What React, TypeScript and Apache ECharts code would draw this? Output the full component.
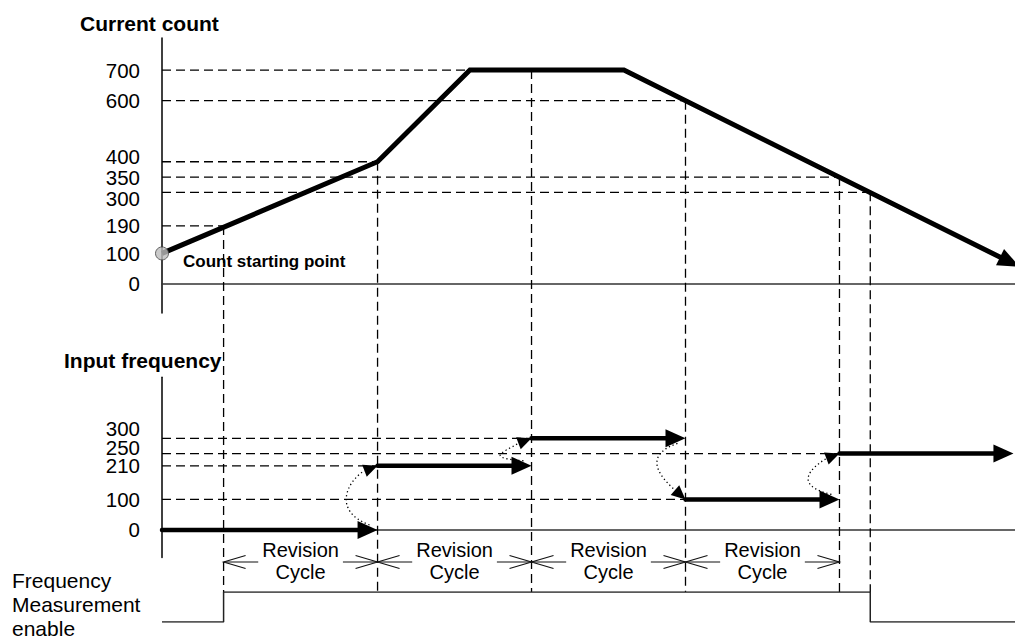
import React, { useEffect, useRef } from 'react';
import * as echarts from 'echarts';

const FONT = '"Liberation Sans", Arial, Helvetica, sans-serif';

// ---- time axis (one revision cycle = 10 units) ----
const timeMax = 55.4;
const cycleBounds = [4, 14, 24, 34, 44];

// ---- current count ----
const countT = [0, 14, 20, 30, 55.3];
const countV = [100, 400, 700, 700, 66];
const countTicks = [0, 100, 190, 300, 350, 400, 600, 700];
const countRefV = [700, 600, 400, 350, 300, 190];
const countRefEndT = [20, 34, 14, 44, 46, 4];
const vLineT = [4, 14, 24, 34, 44, 46];
const vLineV = [190, 400, 700, 600, 350, 300];

// ---- input frequency ----
const freqStartT = [0, 14, 24, 34, 44];
const freqEndT = [14, 24, 34, 44, 55.3];
const freqV = [0, 210, 300, 100, 250];
const freqTicks = [0, 100, 210, 250, 300];
const freqRefV = [300, 250, 210, 100];
const freqRefEndT = [24, 44, 14, 34];

// ---- frequency measurement enable ----
const enableT = [0, 4, 4, 46, 46, 55.4];
const enableV = [0, 0, 1, 1, 0, 0];
const enableLabel = ['Frequency', 'Measurement', 'enable'];

// label nudges (px) used where tick labels would collide
const countLabelShift: Record<number, number> = { 400: -5, 300: 6 };
const freqLabelShift: Record<number, number> = { 300: -9.5, 250: -6 };

const DASH = [9, 5];
const INK = '#000';

function hRefSeries(gi: number, vals: number[], ends: number[]) {
  return {
    type: 'custom',
    xAxisIndex: gi,
    yAxisIndex: gi,
    silent: true,
    z: 1,
    data: vals.map((v, i) => [0, ends[i], v]),
    encode: { x: [0, 1], y: 2 },
    renderItem: (_p: any, api: any) => {
      const a = api.coord([api.value(0), api.value(2)]);
      const b = api.coord([api.value(1), api.value(2)]);
      return {
        type: 'line',
        shape: { x1: a[0], y1: a[1], x2: b[0], y2: b[1] },
        style: { stroke: INK, lineWidth: 1.3, lineDash: DASH },
      };
    },
  };
}

function triangle(tip: number[], from: number[], L: number, W: number) {
  const ang = Math.atan2(tip[1] - from[1], tip[0] - from[0]);
  const bx = tip[0] - L * Math.cos(ang);
  const by = tip[1] - L * Math.sin(ang);
  const nx = -Math.sin(ang) * W;
  const ny = Math.cos(ang) * W;
  return { pts: [[tip[0], tip[1]], [bx + nx, by + ny], [bx - nx, by - ny]], base: [bx, by] };
}

function buildOption(): any {
  const axisX = (gi: number) => ({
    type: 'value',
    gridIndex: gi,
    min: 0,
    max: timeMax,
    axisLabel: { show: false },
    axisTick: { show: false },
    splitLine: { show: false },
    axisLine: { show: gi < 2, onZero: true, lineStyle: { color: '#333', width: 1.5 } },
  });
  const axisY = (gi: number, min: number, max: number) => ({
    type: 'value', gridIndex: gi, min, max,
    axisLine: { show: gi < 2, onZero: false, lineStyle: { color: INK, width: 1.5 } },
    axisTick: { show: false },
    splitLine: { show: false },
    axisLabel: { show: false },
  });
  const n = countT.length;
  return {
    animation: false,
    backgroundColor: '#fff',
    grid: [
      { left: 162, right: 0, top: 38, height: 275 },
      { left: 162, right: 0, top: 377.2, height: 180.3 },
      { left: 162, right: 0, top: 592, height: 30 },
    ],
    xAxis: [axisX(0), axisX(1), axisX(2)],
    yAxis: [axisY(0, -95, 805), axisY(1, -90, 500), axisY(2, 0, 1)],
    series: [
      hRefSeries(0, countRefV, countRefEndT),
      hRefSeries(1, freqRefV, freqRefEndT),
      {
        type: 'line',
        xAxisIndex: 0, yAxisIndex: 0,
        data: countT.map((t, i) => [t, countV[i]]),
        symbol: 'none',
        lineStyle: { color: INK, width: 5, cap: 'butt', join: 'miter' },
        z: 3,
        silent: true,
      },
      {
        type: 'custom',
        xAxisIndex: 0, yAxisIndex: 0,
        silent: true,
        z: 4,
        data: [[countT[n - 2], countV[n - 2], countT[n - 1], countV[n - 1]]],
        encode: { x: [0, 2], y: [1, 3] },
        renderItem: (_p: any, api: any) => {
          const a = api.coord([api.value(0), api.value(1)]);
          const b = api.coord([api.value(2), api.value(3)]);
          const ang = Math.atan2(b[1] - a[1], b[0] - a[0]);
          const tip = [b[0] + 7 * Math.cos(ang), b[1] + 7 * Math.sin(ang)];
          const tri = triangle(tip, a, 22, 9);
          return { type: 'polygon', shape: { points: tri.pts }, style: { fill: INK } };
        },
      },
      {
        type: 'scatter',
        xAxisIndex: 0, yAxisIndex: 0,
        data: [[countT[0], countV[0]]],
        symbol: 'circle',
        symbolSize: 13,
        itemStyle: { color: '#bdbdbd', borderColor: '#444', borderWidth: 1 },
        z: 5,
        silent: true,
      },
      {
        type: 'custom',
        xAxisIndex: 1, yAxisIndex: 1,
        silent: true,
        z: 4,
        data: freqV.map((v, i) => [freqStartT[i], freqEndT[i], v]),
        encode: { x: [0, 1], y: 2 },
        renderItem: (_p: any, api: any) => {
          const a = api.coord([api.value(0), api.value(2)]);
          const b = api.coord([api.value(1), api.value(2)]);
          const L = 20, W = 9;
          return {
            type: 'group',
            children: [
              { type: 'line', shape: { x1: a[0], y1: a[1], x2: b[0] - L * 0.6, y2: b[1] }, style: { stroke: INK, lineWidth: 4.5, lineCap: 'round' } },
              { type: 'polygon', shape: { points: [[b[0], b[1]], [b[0] - L, b[1] - W], [b[0] - L, b[1] + W]] }, style: { fill: INK } },
            ],
          };
        },
      },
      {
        type: 'custom',
        xAxisIndex: 1, yAxisIndex: 1,
        silent: true,
        z: 4,
        data: freqV.slice(1).map((v, i) => [freqStartT[i + 1], freqV[i], v]),
        encode: { x: 0, y: [1, 2] },
        renderItem: (_p: any, api: any) => {
          const t = api.value(0);
          const a = api.coord([t, api.value(1)]);
          const b = api.coord([t, api.value(2)]);
          const dy = b[1] - a[1];
          const up = dy < 0;
          const s = [a[0] - 8, a[1] + (up ? -5 : 5)];
          const cp2 = up ? [b[0] - 24, b[1] + 9] : [b[0] - 16, b[1] - 14];
          const tri = triangle(b, cp2, 14, 6.5);
          const cp1 = [a[0] - 46, a[1] + dy * 0.3];
          const cp2b = [cp2[0] - 6, cp2[1] + (up ? 6 : -6)];
          return {
            type: 'group',
            children: [
              {
                type: 'bezierCurve',
                shape: { x1: s[0], y1: s[1], cpx1: cp1[0], cpy1: cp1[1], cpx2: cp2b[0], cpy2: cp2b[1], x2: tri.base[0], y2: tri.base[1] },
                style: { stroke: INK, lineWidth: 1.3, lineDash: [1.3, 2.7], fill: null },
              },
              { type: 'polygon', shape: { points: tri.pts }, style: { fill: INK } },
            ],
          };
        },
      },
      {
        type: 'line',
        xAxisIndex: 2, yAxisIndex: 2,
        data: enableT.map((t, i) => [t, enableV[i]]),
        symbol: 'none',
        lineStyle: { color: '#222', width: 1.5 },
        silent: true,
        z: 3,
      },
    ],
  };
}

function buildGraphic(px: (g: number, t: number, v: number) => number[]): any[] {
  const els: any[] = [];
  // y tick labels, placed through each axis scale
  const tickLabel = (g: number, v: number, shift: number) => {
    const p = px(g, 0, v);
    els.push({
      type: 'text', z: 3, silent: true, x: p[0] - 22, y: p[1] + shift,
      style: { text: String(v), fontSize: 20.5, fontFamily: FONT, fill: INK, align: 'right', verticalAlign: 'middle', lineHeight: 14 },
    });
  };
  countTicks.forEach((v) => tickLabel(0, v, countLabelShift[v] || 0));
  freqTicks.forEach((v) => tickLabel(1, v, freqLabelShift[v] || 0));

  // vertical dashed guides
  vLineT.forEach((t, i) => {
    const a = px(0, t, vLineV[i]);
    const b = px(2, t, 1);
    els.push({
      type: 'line', z: 1, silent: true,
      shape: { x1: a[0], y1: a[1], x2: b[0], y2: b[1] },
      style: { stroke: INK, lineWidth: 1.3, lineDash: DASH },
    });
  });
  // revision cycle dimension marks
  const dimY = 562;
  for (let k = 0; k < cycleBounds.length - 1; k++) {
    const x1 = px(1, cycleBounds[k], 0)[0];
    const x2 = px(1, cycleBounds[k + 1], 0)[0];
    els.push({ type: 'line', z: 2, silent: true, shape: { x1, y1: dimY, x2, y2: dimY }, style: { stroke: '#111', lineWidth: 1.1 } });
    els.push({ type: 'polyline', z: 2, silent: true, shape: { points: [[x1 + 22, dimY - 6.5], [x1, dimY], [x1 + 22, dimY + 6.5]] }, style: { stroke: '#111', lineWidth: 1.1, fill: null } });
    els.push({ type: 'polyline', z: 2, silent: true, shape: { points: [[x2 - 22, dimY - 6.5], [x2, dimY], [x2 - 22, dimY + 6.5]] }, style: { stroke: '#111', lineWidth: 1.1, fill: null } });
    els.push({
      type: 'text', z: 3, silent: true, x: (x1 + x2) / 2, y: 561,
      style: { text: 'Revision\nCycle', fontSize: 20, fontFamily: FONT, fill: INK, align: 'center', verticalAlign: 'middle', lineHeight: 22, backgroundColor: '#fff', padding: [0, 4] },
    });
  }
  // texts
  els.push({ type: 'text', z: 3, silent: true, x: 80, y: 23.5, style: { text: 'Current count', fontSize: 21, fontWeight: 'bold', fontFamily: FONT, fill: INK, align: 'left', verticalAlign: 'middle' } });
  els.push({ type: 'text', z: 3, silent: true, x: 64, y: 360.5, style: { text: 'Input frequency', fontSize: 21, fontWeight: 'bold', fontFamily: FONT, fill: INK, align: 'left', verticalAlign: 'middle' } });
  els.push({ type: 'text', z: 0, silent: true, x: 183, y: 261.5, style: { text: 'Count starting point', fontSize: 17, fontWeight: 'bold', fontFamily: FONT, fill: INK, align: 'left', verticalAlign: 'middle' } });
  enableLabel.forEach((s, i) => {
    els.push({ type: 'text', z: 3, silent: true, x: 12, y: 580 + i * 24, style: { text: s, fontSize: 21, fontFamily: FONT, fill: INK, align: 'left', verticalAlign: 'middle', lineHeight: 15 } });
  });
  return els;
}

export default function App() {
  const ref = useRef<HTMLDivElement>(null);
  useEffect(() => {
    const chart = echarts.init(ref.current as HTMLDivElement, null, { renderer: 'svg' });
    chart.setOption(buildOption());
    const px = (g: number, t: number, v: number) =>
      chart.convertToPixel({ xAxisIndex: g, yAxisIndex: g } as any, [t, v]) as unknown as number[];
    chart.setOption({ graphic: buildGraphic(px) });
    return () => chart.dispose();
  }, []);
  return (
    <div
      ref={ref}
      style={{ position: 'absolute', left: 0, top: 0, width: 1015, height: 639, background: '#fff' }}
    />
  );
}
